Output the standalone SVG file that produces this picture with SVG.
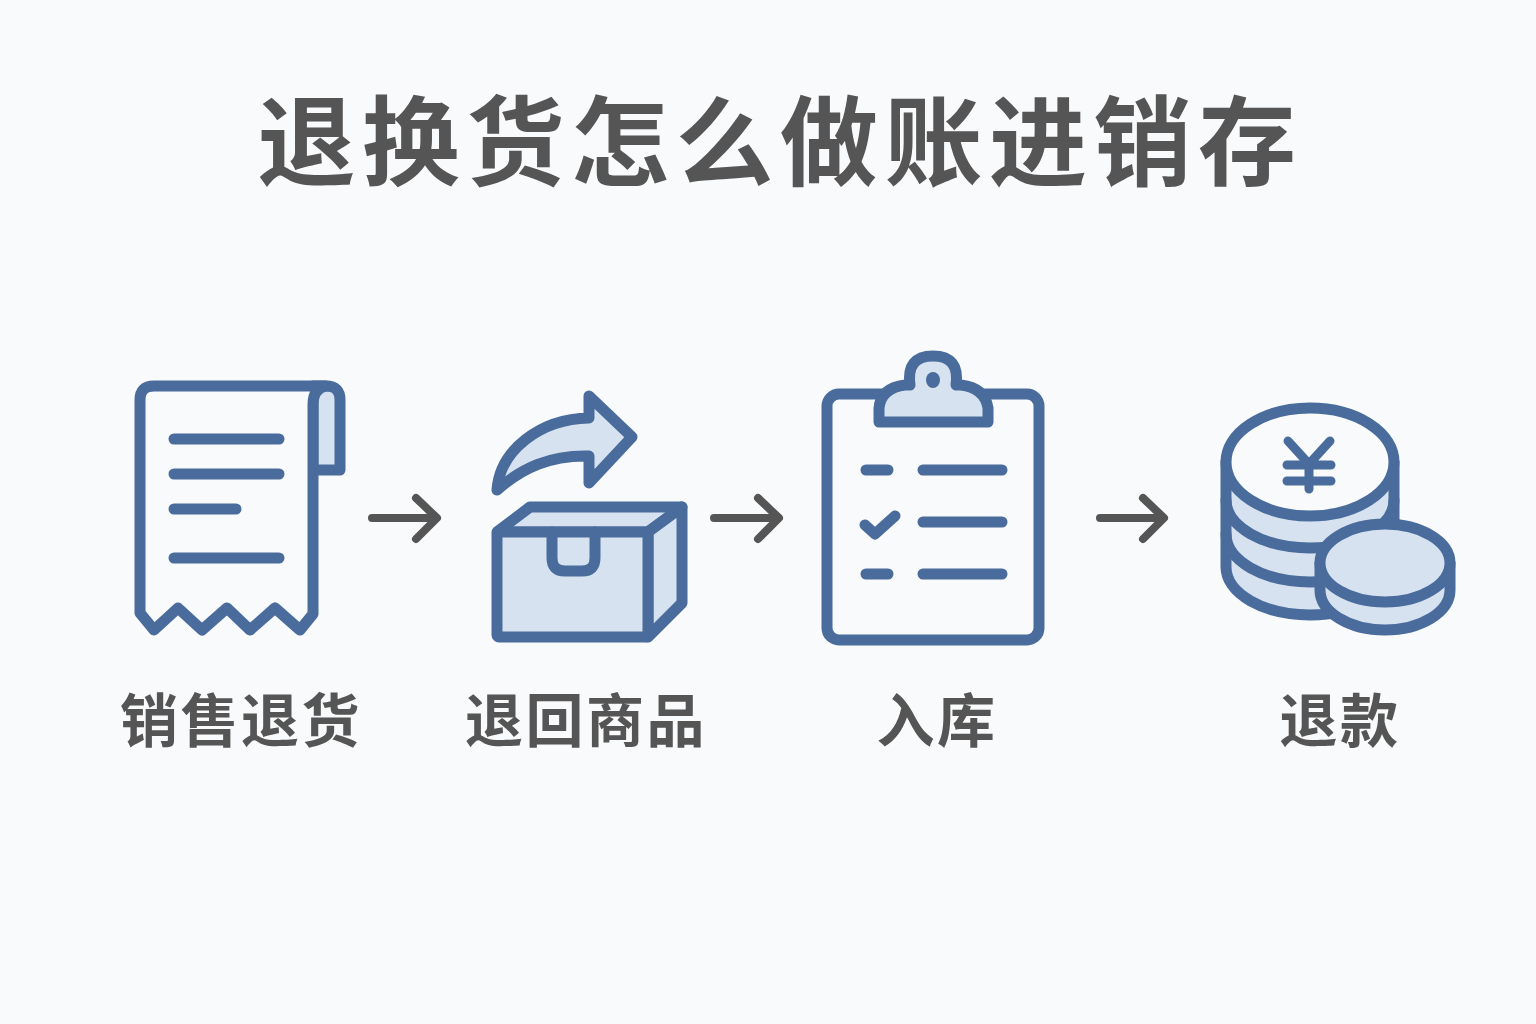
<svg xmlns="http://www.w3.org/2000/svg" width="1536" height="1024" viewBox="0 0 1536 1024">
<style>
.s{stroke:#4a6c9c;stroke-width:11;stroke-linecap:round;stroke-linejoin:round;fill:none}
.f{fill:#d6e2f0}
.w{fill:#f9fafb}
.d{fill:#4a6c9c;stroke:none}
.a{stroke:#555;stroke-width:8;stroke-linecap:round;stroke-linejoin:round;fill:none}
text{font-family:"Noto Sans CJK SC","Liberation Sans",sans-serif;font-weight:700;fill:#555;text-anchor:middle}
.t{font-size:98px;letter-spacing:6.5px}
.l{font-size:58px;letter-spacing:2.5px}
</style>
<rect width="1536" height="1024" fill="#f9fafb"/>
<text id="title" class="t" x="780" y="178">退换货怎么做账进销存</text>
<g id="node-receipt">
<path class="s f" d="M313 386H326Q340 386 340 400V470H313Z"/>
<path class="s w" d="M154 386H326Q313 388 313 405V614L300 630L275 608L250 630L227 608L202 630L178 608L154 630L140 613V400Q140 386 154 386Z"/>
<path class="s" d="M174 439H279M174 474H279M174 509H236M174 558H279"/>
<text class="l" x="241" y="742">销售退货</text>
</g>
<g id="node-box">
<path class="s f" d="M497 490C500 450 540 419 589 418V396L632 437L589 483V456C550 455 522 468 497 490Z"/>
<path class="s f" d="M497 532L530 507H682L648 532Z"/>
<path class="s f" d="M648 532L682 507V603L648 637Z"/>
<rect class="s f" x="497" y="532" width="151" height="105" rx="2"/>
<path class="s" d="M552 532V558Q552 571 565 571H582Q595 571 595 558V532"/>
<text class="l" x="586" y="742">退回商品</text>
</g>
<g id="node-clipboard">
<rect class="s w" x="827" y="394" width="212" height="246" rx="12"/>
<path class="s f" d="M879 422V408Q881 388 905 385H910Q906 356 933 356Q960 356 956 385H961Q985 388 988 408V422Z"/>
<ellipse class="d" cx="933" cy="380" rx="7" ry="8"/>
<path class="s" d="M866 470H888M923 470H1002M923 522H1002M866 574H888M923 574H1002"/>
<path class="s" d="M865 525L875 534L895 516"/>
<text class="l" x="937" y="742">入库</text>
</g>
<g id="node-coins">
<path class="s f" d="M1226 462V567A84 48 0 0 0 1394 567V462Z"/>
<path class="s" d="M1226 500A84 48 0 0 0 1394 500M1226 534A84 48 0 0 0 1394 534"/>
<ellipse class="s w" cx="1310" cy="462" rx="84" ry="54"/>
<path class="s" d="M1288 441L1309 464L1330 441M1309 464V489M1287 465H1331M1287 481H1331" style="stroke-width:9"/>
<path class="s f" d="M1320 563V590A65 40 0 0 0 1450 590V563Z"/>
<ellipse class="s f" cx="1385" cy="563" rx="65" ry="39"/>
<text class="l" x="1340" y="742">退款</text>
</g>
<g id="connectors">
<path class="a" d="M372 518H436M416 498L437 518L416 539"/>
<path class="a" d="M714 518H778M758 498L779 518L758 539"/>
<path class="a" d="M1100 518H1163M1143 498L1164 518L1143 539"/>
</g>
</svg>
